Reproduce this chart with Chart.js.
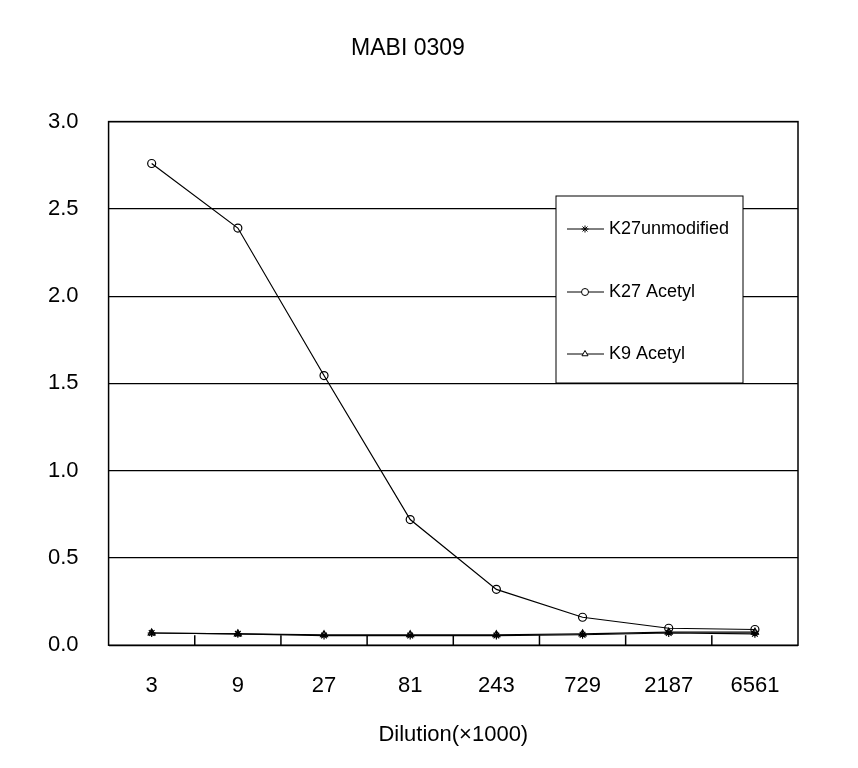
<!DOCTYPE html>
<html><head><meta charset="utf-8">
<script src="https://cdn.jsdelivr.net/npm/chart.js@4/dist/chart.umd.min.js"></script>
<style>html,body{margin:0;background:#fff}#w{width:858px;height:768px}</style>
</head><body><div id="w"><canvas id="c"></canvas></div>
<script>
const categories = ['3','9','27','81','243','729','2187','6561'];
const k27unmod = [0.07,0.065,0.055,0.055,0.055,0.06,0.07,0.065];
const k27acetyl = [2.76,2.39,1.545,0.72,0.32,0.16,0.097,0.09];
const k9acetyl = [0.07,0.065,0.06,0.06,0.06,0.065,0.075,0.075];
const seriesNames = ['K27unmodified','K27 Acetyl','K9 Acetyl'];
const styles = ['star','circle','triangle'];
const F = 'Arial, "Liberation Sans", sans-serif';

const deco = {
  id:'deco',
  afterDraw(ch){
    const c=ch.ctx, a=ch.chartArea, x=ch.scales.x;
    c.save(); c.strokeStyle='#000'; c.lineWidth=1.5;
    c.strokeRect(a.left,a.top,a.right-a.left,a.bottom-a.top);
    for(let i=1;i<categories.length;i++){
      const px=(x.getPixelForValue(i-1)+x.getPixelForValue(i))/2;
      c.beginPath(); c.moveTo(px,a.bottom); c.lineTo(px,a.bottom-10); c.stroke();
    }
    const L=556,T=196,W=187,H=187;
    c.fillStyle='#fff'; c.fillRect(L,T,W,H); c.lineWidth=1; c.strokeRect(L,T,W,H);
    const ys=[229,292,354];
    ch.data.datasets.forEach((d,i)=>{
      const y=ys[i];
      c.strokeStyle='#000'; c.lineWidth=1;
      c.beginPath(); c.moveTo(567,y); c.lineTo(604,y); c.stroke();
      c.fillStyle='#fff';
      Chart.helpers.drawPoint(c,{pointStyle:d.pointStyle,radius:3.5,rotation:0,borderWidth:1},585,y);
      c.font='18px '+F; c.fillStyle='#000'; c.textBaseline='middle';
      c.fillText(d.label,609,y);
    });
    c.restore();
  }
};

const mk=(lbl,data,ps)=>({label:lbl,data,borderColor:'#000',backgroundColor:'#fff',borderWidth:1.2,pointStyle:ps,pointRadius:4,pointBorderColor:'#000',pointBackgroundColor:'rgba(255,255,255,0)',tension:0});
new Chart(document.getElementById('c'),{
  type:'line',
  data:{labels:categories,datasets:[mk(seriesNames[0],k27unmod,styles[0]),mk(seriesNames[1],k27acetyl,styles[1]),mk(seriesNames[2],k9acetyl,styles[2])]},
  options:{
    responsive:true,maintainAspectRatio:false,animation:false,
    layout:{padding:{left:18,right:60,top:10,bottom:16}},
    plugins:{legend:{display:false},tooltip:{enabled:false},
      title:{display:true,text:'MABI 0309',color:'#000',font:{family:F,size:23,weight:'normal'},padding:{top:25,bottom:59}}},
    scales:{
      x:{offset:true,grid:{display:false},border:{display:false},
        ticks:{color:'#000',font:{family:F,size:22},padding:20},
        title:{display:true,text:'Dilution(×1000)',color:'#000',font:{family:F,size:22},padding:{top:2}}},
      y:{min:0,max:3,grid:{color:'#000',lineWidth:1.2,drawTicks:false},border:{display:false},
        ticks:{stepSize:0.5,color:'#000',font:{family:F,size:22},padding:30,callback:v=>v.toFixed(1)}}
    }
  },
  plugins:[deco]
});
</script></body></html>
